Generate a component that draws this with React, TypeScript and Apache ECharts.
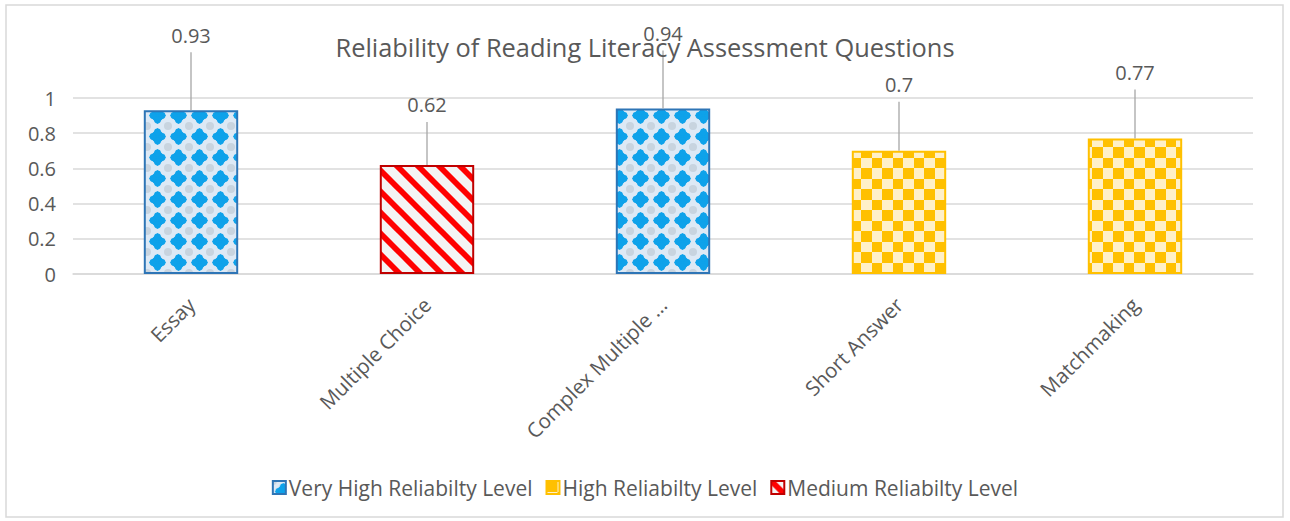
import React, { useEffect, useRef } from "react";
import * as echarts from "echarts";

const categories = ["Essay", "Multiple Choice", "Complex Multiple ...", "Short Answer", "Matchmaking"];
const values = [0.93, 0.62, 0.94, 0.7, 0.77];
const levels = ["Very High", "Medium", "Very High", "High", "High"];
const seriesNames = ["Very High Reliabilty Level", "High Reliabilty Level", "Medium Reliabilty Level"];
const seriesLevels = ["Very High", "High", "Medium"];
const yTicks = [0, 0.2, 0.4, 0.6, 0.8, 1];

// styling (not data)
const calloutLift = [75, 60, 75, 66, 66];
const FONT = "'Open Sans', 'DejaVu Sans', sans-serif";
const TEXT = "#595959";

function makeCanvas(w: number, h: number, draw: (c: CanvasRenderingContext2D) => void) {
  const cv = document.createElement("canvas");
  cv.width = w;
  cv.height = h;
  const ctx = cv.getContext("2d")!;
  draw(ctx);
  return cv;
}

function bluePattern() {
  const s = 21;
  const cv = makeCanvas(s, s, (c) => {
    c.fillStyle = "#dde9f5";
    c.fillRect(0, 0, s, s);
    c.fillStyle = "#c8d4df";
    for (const [x, y] of [[0, 0], [s, 0], [0, s], [s, s]]) {
      c.beginPath();
      c.arc(x, y, 4, 0, Math.PI * 2);
      c.fill();
    }
    c.fillStyle = "#0ea2ea";
    const cx = s / 2, cy = s / 2;
    c.beginPath();
    c.moveTo(cx, cy - 8.5);
    c.lineTo(cx + 8.5, cy);
    c.lineTo(cx, cy + 8.5);
    c.lineTo(cx - 8.5, cy);
    c.closePath();
    c.fill();
    c.beginPath();
    c.arc(cx, cy, 5.8, 0, Math.PI * 2);
    c.fill();
    for (const [dx, dy] of [[4.5, 0], [-4.5, 0], [0, 4.5], [0, -4.5]]) {
      c.beginPath();
      c.arc(cx + dx, cy + dy, 3.4, 0, Math.PI * 2);
      c.fill();
    }
  });
  return { image: cv, repeat: "repeat", imageWidth: s, imageHeight: s };
}

function checkerPattern() {
  const s = 21;
  const cv = makeCanvas(s, s, (c) => {
    c.fillStyle = "#fff0c8";
    c.fillRect(0, 0, s, s);
    c.fillStyle = "#ffc000";
    c.fillRect(0, 0, 11, 11);
    c.fillRect(11, 11, 10, 10);
  });
  return { image: cv, repeat: "repeat", imageWidth: s, imageHeight: s };
}

function stripePattern() {
  const s = 21;
  const cv = makeCanvas(s, s, (c) => {
    c.fillStyle = "#f4f4f4";
    c.fillRect(0, 0, s, s);
    c.strokeStyle = "#ff0000";
    c.lineWidth = 5.8;
    for (const off of [-s, 0, s]) {
      c.beginPath();
      c.moveTo(off - 3, -3);
      c.lineTo(off + s + 3, s + 3);
      c.stroke();
    }
  });
  return { image: cv, repeat: "repeat", imageWidth: s, imageHeight: s };
}

export default function App() {
  const ref = useRef<HTMLDivElement>(null);
  useEffect(() => {
    if (!ref.current) return;
    const chart = echarts.init(ref.current, null, { renderer: "svg" });
    const fills: any = {
      "Very High": { color: bluePattern(), borderColor: "#2e75b6", borderWidth: 2 },
      High: { color: checkerPattern(), borderColor: "#ffc000", borderWidth: 2 },
      Medium: { color: stripePattern(), borderColor: "#c00000", borderWidth: 2 },
    };
    const barSeries = seriesLevels.map((lvl, k) => ({
      name: seriesNames[k],
      type: "bar",
      stack: "all",
      barWidth: "40%",
      itemStyle: fills[lvl],
      data: values.map((v, i) => (levels[i] === lvl ? v : "-")),
      z: 2,
    }));
    const option: any = {
      animation: false,
      backgroundColor: "#ffffff",
      title: {
        text: "Reliability of Reading Literacy Assessment Questions",
        left: "center",
        top: 29,
        textStyle: { fontFamily: FONT, fontSize: 25.4, fontWeight: "normal", color: TEXT },
      },
      legend: {
        data: seriesNames,
        top: 472,
        left: "center",
        icon: "rect",
        itemWidth: 13,
        itemHeight: 13,
        itemGap: 13,
        textStyle: { fontFamily: FONT, fontSize: 21, color: TEXT, padding: [0, 0, 0, -2] },
      },
      grid: { left: 73, right: 37, top: 98, bottom: 247, containLabel: false },
      xAxis: {
        type: "category",
        data: categories,
        axisLine: { show: true, lineStyle: { color: "#d9d9d9", width: 1.5 } },
        axisTick: { show: false },
        axisLabel: {
          rotate: 45,
          interval: 0,
          margin: 27,
          fontFamily: FONT,
          fontSize: 20.5,
          color: TEXT,
        },
      },
      yAxis: {
        type: "value",
        min: yTicks[0],
        max: yTicks[yTicks.length - 1],
        interval: 0.2,
        axisLine: { show: false },
        axisTick: { show: false },
        splitLine: { lineStyle: { color: "#d9d9d9", width: 1.5 } },
        axisLabel: {
          margin: 17,
          fontFamily: FONT,
          fontSize: 20,
          color: TEXT,
          formatter: (v: number) => String(Math.round(v * 10) / 10),
        },
      },
      graphic: [
        {
          type: "rect",
          shape: { x: 6, y: 5, width: 1277, height: 512 },
          style: { fill: "none", stroke: "#d9d9d9", lineWidth: 1.5 },
          silent: true,
        },
      ],
      series: [
        ...barSeries,
        {
          type: "custom",
          name: "callouts",
          data: values.map((v, i) => [i, v]),
          z: 5,
          renderItem: (params: any, api: any) => {
            const i = api.value(0);
            const v = api.value(1);
            const [x, y] = api.coord([i, v]);
            const lift = calloutLift[params.dataIndex];
            return {
              type: "group",
              children: [
                {
                  type: "line",
                  shape: { x1: x, y1: y, x2: x, y2: y - lift + 17 },
                  style: { stroke: "#a6a6a6", lineWidth: 1.3 },
                },
                {
                  type: "text",
                  x: x,
                  y: y - lift,
                  style: {
                    text: String(v),
                    fontFamily: FONT,
                    fontSize: 20,
                    fill: TEXT,
                    align: "center",
                    verticalAlign: "middle",
                  },
                },
              ],
            };
          },
        },
      ],
    };
    chart.setOption(option);
    return () => chart.dispose();
  }, []);
  return (
    <div
      ref={ref}
      style={{ position: "fixed", left: 0, top: 0, width: 1290, height: 521 }}
    />
  );
}
